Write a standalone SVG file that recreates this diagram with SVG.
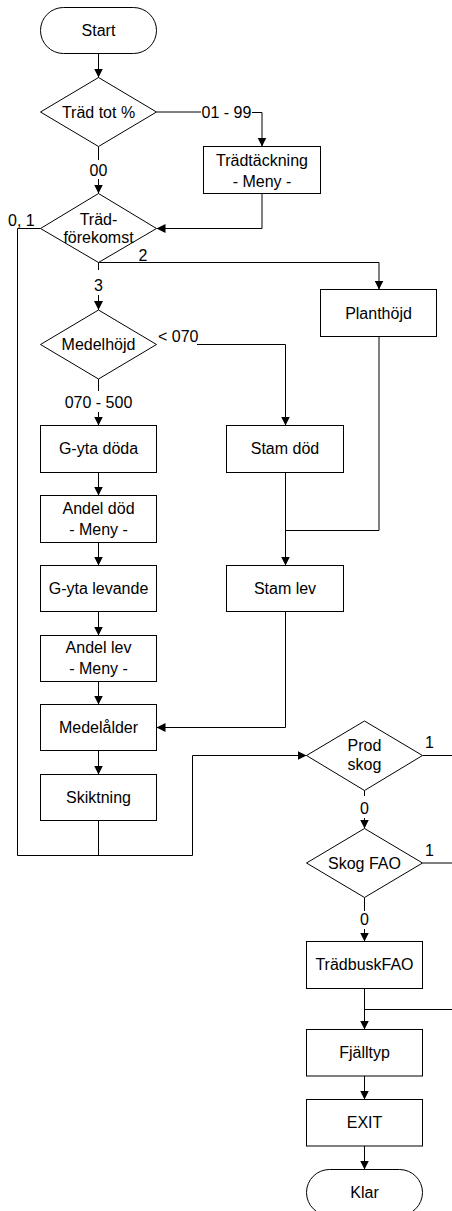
<svg xmlns="http://www.w3.org/2000/svg" width="452" height="1211" viewBox="0 0 452 1211">
<style>
.n{fill:#fff;stroke:#000;stroke-width:1}
.c{fill:none;stroke:#000;stroke-width:1}
text{font-family:"Liberation Sans",Arial,sans-serif;font-size:16px;fill:#000}
.m{text-anchor:middle}
</style>
<defs>
<marker id="a" markerUnits="userSpaceOnUse" markerWidth="9" markerHeight="9" refX="9" refY="4.5" orient="auto">
<path d="M0,0 L9,4.5 L0,9 z" fill="#000"/>
</marker>
</defs>
<rect width="452" height="1211" fill="#fff"/>
<g id="connectors">
<path class="c" d="M98.5,53.5 V77.5" marker-end="url(#a)"/>
<path class="c" d="M156.5,112 H201"/>
<path class="c" d="M252,112.5 H262 V146.5" marker-end="url(#a)"/>
<path class="c" d="M98.5,146.5 V160"/>
<path class="c" d="M98.5,179 V193.5" marker-end="url(#a)"/>
<path class="c" d="M262,193.5 V228.5 H156.5" marker-end="url(#a)"/>
<path class="c" d="M40.5,228.5 H17.5 V855.5 H192.5 V755.5 H306.5" marker-end="url(#a)"/>
<path class="c" d="M98.5,820.5 V855.5"/>
<path class="c" d="M98.5,262.5 H379 V289.5" marker-end="url(#a)"/>
<path class="c" d="M98.5,262.5 V270"/>
<path class="c" d="M98.5,295 V310" marker-end="url(#a)"/>
<path class="c" d="M197,344.5 H285.5 V425.5" marker-end="url(#a)"/>
<path class="c" d="M98.5,379 V391"/>
<path class="c" d="M98.5,412 V425.5" marker-end="url(#a)"/>
<path class="c" d="M379,336.5 V530.5 H285.5"/>
<path class="c" d="M285.5,472.5 V565.5" marker-end="url(#a)"/>
<path class="c" d="M285.5,611.5 V727.5 H156.5" marker-end="url(#a)"/>
<path class="c" d="M98.5,472.5 V495.5" marker-end="url(#a)"/>
<path class="c" d="M98.5,542.5 V565.5" marker-end="url(#a)"/>
<path class="c" d="M98.5,611.5 V635.5" marker-end="url(#a)"/>
<path class="c" d="M98.5,681.5 V704.5" marker-end="url(#a)"/>
<path class="c" d="M98.5,750.5 V774.5" marker-end="url(#a)"/>
<path class="c" d="M422.5,755.5 H452"/>
<path class="c" d="M364.5,790.5 V796"/>
<path class="c" d="M364.5,818 V828.5" marker-end="url(#a)"/>
<path class="c" d="M422.5,863 H452"/>
<path class="c" d="M364.5,897.5 V911"/>
<path class="c" d="M364.5,929 V941.5" marker-end="url(#a)"/>
<path class="c" d="M364.5,988.5 V1029.5" marker-end="url(#a)"/>
<path class="c" d="M452,1009.5 H364.5"/>
<path class="c" d="M364.5,1076 V1099.5" marker-end="url(#a)"/>
<path class="c" d="M364.5,1146 V1169.5" marker-end="url(#a)"/>
<text x="201.5" y="117.5">01 - 99</text>
<text class="m" x="98.5" y="175.5">00</text>
<text x="8" y="226">0, 1</text>
<text class="m" x="143" y="261">2</text>
<text class="m" x="98.5" y="291">3</text>
<text x="158" y="342">&lt; 070</text>
<text class="m" x="98.5" y="408">070 - 500</text>
<text class="m" x="429.5" y="748">1</text>
<text class="m" x="364.5" y="814">0</text>
<text class="m" x="429.5" y="856">1</text>
<text class="m" x="364.5" y="925">0</text>
</g>
<g id="start"><rect class="n" x="40.5" y="7.5" width="116" height="46" rx="23"/><text class="m" x="98.5" y="36">Start</text></g>
<g id="trad-tot"><polygon class="n" points="98.5,77.5 156.5,112 98.5,146.5 40.5,112"/><text class="m" x="98.5" y="117.5">Träd tot %</text></g>
<g id="tradtackning"><rect class="n" x="203.5" y="146.5" width="117" height="47"/><text class="m" x="262" y="165.5">Trädtäckning</text><text class="m" x="262" y="187">- Meny -</text></g>
<g id="trad-forekomst"><polygon class="n" points="98.5,193.5 156.5,228.5 98.5,262.5 40.5,228.5"/><text class="m" x="98.5" y="224.5">Träd-</text><text class="m" x="98.5" y="243">förekomst</text></g>
<g id="planthojd"><rect class="n" x="320.5" y="289.5" width="116" height="47"/><text class="m" x="378.5" y="318.5">Planthöjd</text></g>
<g id="medelhojd"><polygon class="n" points="98.5,310 156.5,344.5 98.5,379 40.5,344.5"/><text class="m" x="98.5" y="350">Medelhöjd</text></g>
<g id="g-yta-doda"><rect class="n" x="40.5" y="425.5" width="116" height="47"/><text class="m" x="98.5" y="454">G-yta döda</text></g>
<g id="stam-dod"><rect class="n" x="226.5" y="425.5" width="117" height="47"/><text class="m" x="285" y="454">Stam död</text></g>
<g id="andel-dod"><rect class="n" x="40.5" y="495.5" width="116" height="47"/><text class="m" x="98.5" y="514">Andel död</text><text class="m" x="98.5" y="535">- Meny -</text></g>
<g id="g-yta-levande"><rect class="n" x="40.5" y="565.5" width="116" height="46"/><text class="m" x="98.5" y="594">G-yta levande</text></g>
<g id="stam-lev"><rect class="n" x="226.5" y="565.5" width="117" height="46"/><text class="m" x="285" y="594">Stam lev</text></g>
<g id="andel-lev"><rect class="n" x="40.5" y="635.5" width="116" height="46"/><text class="m" x="98.5" y="653">Andel lev</text><text class="m" x="98.5" y="674">- Meny -</text></g>
<g id="medelalder"><rect class="n" x="40.5" y="704.5" width="116" height="46"/><text class="m" x="98.5" y="733">Medelålder</text></g>
<g id="skiktning"><rect class="n" x="40.5" y="774.5" width="116" height="46"/><text class="m" x="98.5" y="803">Skiktning</text></g>
<g id="prod-skog"><polygon class="n" points="364.5,721 422.5,755.5 364.5,790.5 306.5,755.5"/><text class="m" x="364.5" y="751">Prod</text><text class="m" x="364.5" y="770">skog</text></g>
<g id="skog-fao"><polygon class="n" points="364.5,828.5 422.5,863 364.5,897.5 306.5,863"/><text class="m" x="364.5" y="868.5">Skog FAO</text></g>
<g id="tradbuskfao"><rect class="n" x="306.5" y="941.5" width="116" height="47"/><text class="m" x="364.5" y="970">TrädbuskFAO</text></g>
<g id="fjalltyp"><rect class="n" x="306.5" y="1029.5" width="116" height="46.5"/><text class="m" x="364.5" y="1058">Fjälltyp</text></g>
<g id="exit"><rect class="n" x="306.5" y="1099.5" width="116" height="46.5"/><text class="m" x="364.5" y="1128">EXIT</text></g>
<g id="klar"><rect class="n" x="306.5" y="1169.5" width="116" height="46" rx="23"/><text class="m" x="364.5" y="1198">Klar</text></g>
</svg>
